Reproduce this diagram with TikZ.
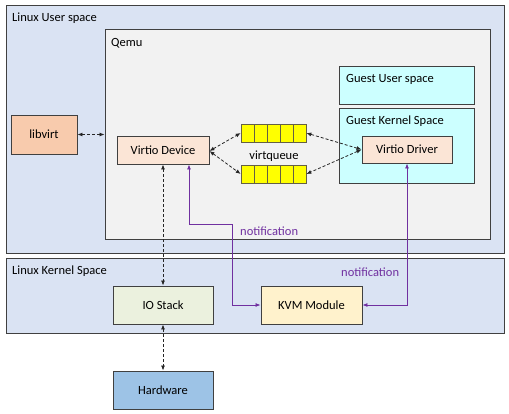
\documentclass[tikz,border=0pt]{standalone}
\usepackage{fontspec}
\setmainfont{Carlito}
\usetikzlibrary{arrows.meta}
\definecolor{outerfill}{HTML}{DAE3F3}
\definecolor{edge}{HTML}{404040}
\definecolor{qemufill}{HTML}{F2F2F2}
\definecolor{guestfill}{HTML}{CCFFFF}
\definecolor{virtiofill}{HTML}{FBE5D6}
\definecolor{libvirtfill}{HTML}{F8CBAD}
\definecolor{iofill}{HTML}{EBF1DE}
\definecolor{hwfill}{HTML}{9DC3E6}
\definecolor{kvmfill}{HTML}{FFF2CC}
\definecolor{qfill}{HTML}{FFFF00}
\definecolor{notif}{HTML}{7030A0}
\begin{document}
\begin{tikzpicture}[x=1pt,y=-1pt,
  font=\fontsize{12.5}{14}\selectfont,
  box/.style={draw=edge,line width=0.9pt,inner sep=0pt,minimum width=#1},
  region/.style={draw=edge,line width=0.9pt,inner sep=0pt},
  cell/.style={draw=black!70!yellow,line width=0.6pt,fill=qfill,inner sep=0pt,minimum width=13pt,minimum height=18pt},
  tip/.style={{Latex[length=5pt,width=4pt]}-{Latex[length=5pt,width=4pt]}},
  dashline/.style={tip,dash pattern=on 3pt off 2pt,line width=0.8pt,black!85},
  notline/.style={notif,line width=0.8pt},
  lbl/.style={anchor=west,inner sep=0pt}]
\useasboundingbox (0,0) rectangle (509,413);
% regions
\node[region,fill=outerfill,minimum width=498pt,minimum height=248pt] (user) at (255,129) {};
\node[region,fill=outerfill,minimum width=498pt,minimum height=75pt] (kernel) at (255,295.5) {};
\node[region,fill=qemufill,minimum width=385pt,minimum height=210pt] (qemu) at (297.5,134) {};
\node[region,fill=guestfill,minimum width=135pt,minimum height=38pt] (guser) at (406.5,85) {};
\node[region,fill=guestfill,minimum width=135pt,minimum height=75pt] (gkernel) at (406.5,145.5) {};
% region labels
\node[lbl] (tuser) at (12,18) {Linux User space};
\node[lbl] (tqemu) at (111,43) {Qemu};
\node[lbl] (tkernel) at (12,271) {Linux Kernel Space};
\node[lbl] (tguser) at (346,79) {Guest User space};
\node[lbl] (tgkernel) at (346,121) {Guest Kernel Space};
% boxes
\node[box=90pt,fill=virtiofill,minimum height=27pt] (driver) at (407,149.5) {Virtio Driver};
\node[box=92pt,fill=virtiofill,minimum height=28pt] (device) at (163,150) {Virtio Device};
\node[box=66pt,fill=libvirtfill,minimum height=39pt] (libvirt) at (44,134.5) {libvirt};
\node[box=100pt,fill=iofill,minimum height=38pt] (io) at (163,305) {IO Stack};
\node[box=100pt,fill=hwfill,minimum height=38pt] (hw) at (163,390) {Hardware};
\node[box=101pt,fill=kvmfill,minimum height=38pt] (kvm) at (311.5,305) {KVM Module};
% queues
\foreach \i in {1,...,5} {
  \node[cell] (qa\i) at (241+13*\i-6.5,133) {};
  \node[cell] (qb\i) at (241+13*\i-6.5,174) {};
}
\node (vq) at (274,156) {virtqueue};
% dashed connectors
\draw[dashline] (libvirt.east) -- (libvirt.east -| qemu.west);
\draw[dashline] ([yshift=-1pt]device.east) -- (qa1.west);
\draw[dashline] ([yshift=-1pt]device.east) -- (qb1.west);
\draw[dashline] (driver.west) -- (qa5.east);
\draw[dashline] (driver.west) -- (qb5.east);
\draw[dashline] (device.south) -- (io.north);
\draw[dashline] (io.south) -- (hw.north);
% notifications
\coordinate (bend1) at (232,224);
\draw[notline,tip] ([xshift=26pt]device.south) |- (bend1) |- (kvm.west);
\draw[notline,tip] (driver.south) |- (kvm.east);
\node[lbl,text=notif] (n1) at (240,231) {notification};
\node[lbl,text=notif] (n2) at (341,272) {notification};
\end{tikzpicture}
\end{document}
